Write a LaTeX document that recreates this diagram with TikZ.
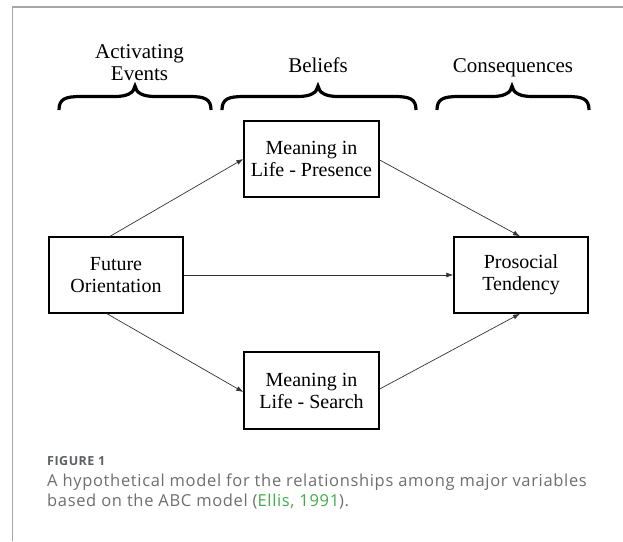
\documentclass[tikz,border=0pt]{standalone}
\usepackage{fontspec}
\setmainfont{Liberation Serif}
\newfontfamily\capfont{Open Sans}[LetterSpace=4]
\usetikzlibrary{arrows.meta,calc}

\definecolor{framegray}{HTML}{A6A6A6}
\definecolor{captiongray}{HTML}{6D6E71}
\definecolor{labelgray}{HTML}{5E5F62}
\definecolor{citegreen}{HTML}{3FAE49}
\definecolor{linkgray}{HTML}{333333}

\tikzset{
  varbox/.style={draw=black, line width=1.4pt, minimum width=134pt, minimum height=76pt,
    inner sep=0pt, align=center, font=\fontsize{20}{22}\selectfont},
  header/.style={inner sep=0pt, align=center, font=\fontsize{21}{22}\selectfont},
  link/.style={draw=linkgray, line width=0.7pt, -{Latex[length=7pt,width=5pt]}},
  bracestroke/.style={draw=black, line width=3.2pt, line join=miter},
  framerule/.style={draw=framegray, line width=1.2pt},
}

\begin{document}
\begin{tikzpicture}[x=1pt, y=-1pt]
  \useasboundingbox (0,0) rectangle (623,541);

  % panel edges
  \draw[framerule] (623,7) -- (12.5,7) -- (12.5,541);

  % column headings
  \node[header, anchor=north] (hA) at (139.5,44.7) {Activating\\Events};
  \node[header, anchor=base] (hB) at (318,72) {Beliefs};
  \node[header, anchor=base] (hC) at (513,72) {Consequences};

  % curly braces under the headings
  \foreach \xa/\xm/\xb in {59/135/211, 222/318/416, 437/512/589}{
    \draw[bracestroke] (\xa,110) .. controls (\xa,99) and (\xa+6,96.5) .. (\xa+22,96.5)
      -- (\xm-20,96.5) .. controls (\xm-8,96.5) and (\xm-1,93) .. (\xm,86)
      .. controls (\xm+1,93) and (\xm+8,96.5) .. (\xm+20,96.5)
      -- (\xb-22,96.5) .. controls (\xb-6,96.5) and (\xb,99) .. (\xb,110);
  }

  % variables
  \node[varbox] (fut) at (116,275) {Future\\Orientation};
  \node[varbox, minimum width=135pt] (pres) at (311.5,159) {Meaning in\\Life - Presence};
  \node[varbox, minimum width=135pt, minimum height=77pt] (srch) at (311.5,390.5) {Meaning in\\Life - Search};
  \node[varbox] (pro) at (521,275) {Prosocial\\Tendency};

  % paths
  \draw[link] ([xshift=-6pt]fut.north) -- (pres.west);
  \draw[link] ([yshift=-1pt]pres.east) -- ([xshift=-1pt]pro.north);
  \draw[link] (fut.east) -- (pro.west);
  \draw[link] ([xshift=-9pt]fut.south) -- ([yshift=-1.5pt]srch.west);
  \draw[link] ([yshift=1.5pt]srch.east) -- ([xshift=-1pt]pro.south);

  % caption
  \node[anchor=base west, inner sep=0pt, text=labelgray,
        font=\capfont\bfseries\fontsize{12.5}{15}\selectfont] (figlab) at (47,465) {FIGURE 1};
  \node[anchor=base west, inner sep=0pt, text=captiongray,
        font=\capfont\fontsize{16.5}{20}\selectfont] (cap1) at (47,486)
        {A hypothetical model for the relationships among major variables};
  \node[anchor=base west, inner sep=0pt, text=captiongray,
        font=\capfont\fontsize{16.5}{20}\selectfont] (cap2) at (47,506)
        {based on the ABC model (\textcolor{citegreen}{Ellis, 1991}).};
\end{tikzpicture}
\end{document}
